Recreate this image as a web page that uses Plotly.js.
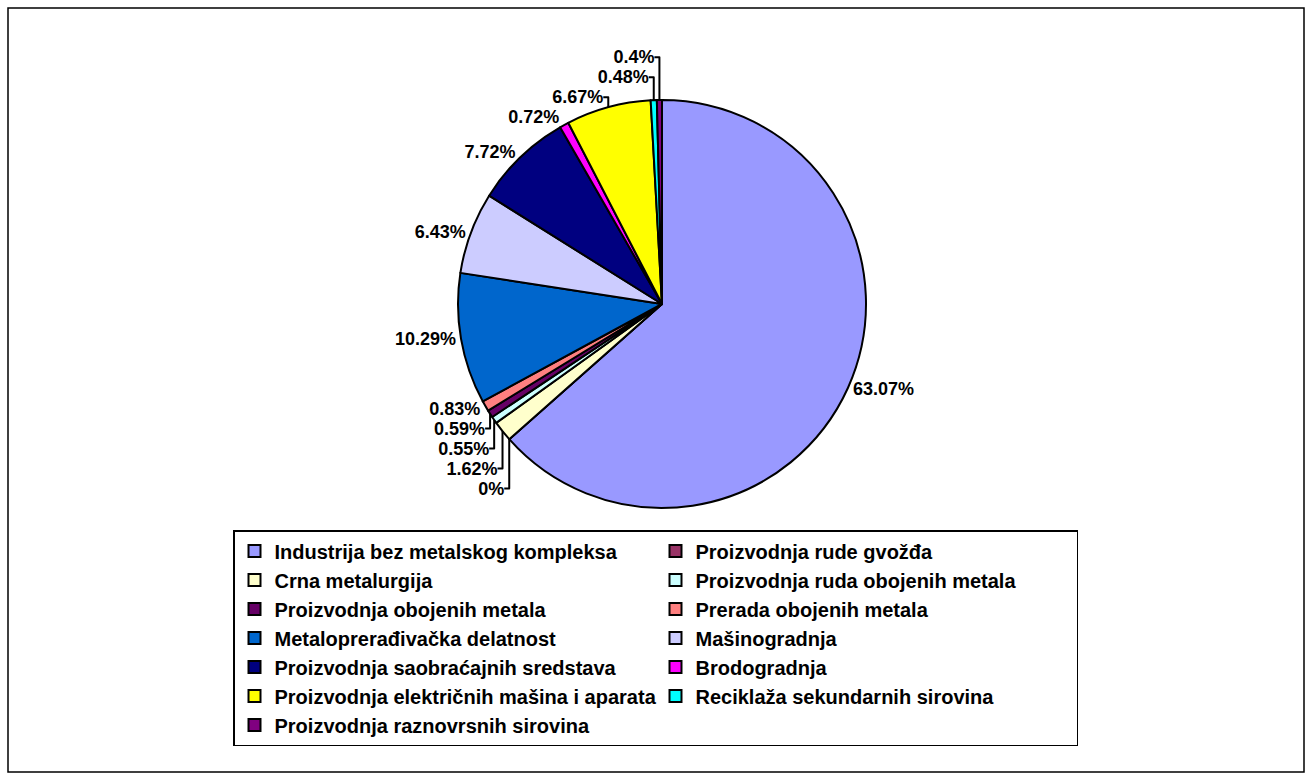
<!DOCTYPE html>
<html>
<head>
<meta charset="utf-8">
<script src="https://cdn.plot.ly/plotly-3.0.1.min.js"></script>
<style>html,body{margin:0;padding:0;background:#fff;}#chart{width:1312px;height:780px;}</style>
</head>
<body>
<div id="chart"></div>
<script>
const categories = [
  "Industrija bez metalskog kompleksa",
  "Proizvodnja rude gvožđa",
  "Crna metalurgija",
  "Proizvodnja ruda obojenih metala",
  "Proizvodnja obojenih metala",
  "Prerada obojenih metala",
  "Metaloprerađivačka delatnost",
  "Mašinogradnja",
  "Proizvodnja saobraćajnih sredstava",
  "Brodogradnja",
  "Proizvodnja električnih mašina i aparata",
  "Reciklaža sekundarnih sirovina",
  "Proizvodnja raznovrsnih sirovina"
];
const shares = [63.07, 0, 1.62, 0.55, 0.59, 0.83, 10.29, 6.43, 7.72, 0.72, 6.67, 0.48, 0.4];
const colors = ["#9999FF", "#993366", "#FFFFCC", "#CCFFFF", "#660066", "#FF8080", "#0066CC",
                "#CCCCFF", "#000080", "#FF00FF", "#FFFF00", "#00FFFF", "#800080"];

const W = 1312, H = 780, ML = 100, MR = 100;
const PW = W - ML - MR;
const px = v => (v - ML) / PW;   // pixel x -> paper x
const py = v => 1 - v / H;       // pixel y -> paper y

const trace = {
  type: "pie",
  labels: categories,
  values: shares,
  sort: false,
  direction: "clockwise",
  rotation: 0,
  marker: {colors: colors, line: {color: "#000", width: 2}},
  texttemplate: "%{value}%",
  textposition: "outside",
  textfont: {family: "Liberation Sans, Arial, sans-serif", size: 18, color: "#000", weight: "bold"},
  hoverinfo: "label+value",
  domain: {x: [px(412), px(912)], y: [py(508), py(100)]}
};

const layout = {
  width: W, height: H,
  margin: {l: ML, r: MR, t: 0, b: 0, autoexpand: false},
  paper_bgcolor: "#fff",
  showlegend: true,
  legend: {
    orientation: "h",
    x: px(233), xanchor: "left",
    y: py(530), yanchor: "top",
    entrywidth: 376, entrywidthmode: "pixels",
    bordercolor: "#000", borderwidth: 1.5,
    font: {family: "Liberation Sans, Arial, sans-serif", size: 20, color: "#000", weight: "bold"},
    itemwidth: 30,
    traceorder: "normal"
  },
  shapes: [{
    type: "rect", xref: "paper", yref: "paper",
    x0: px(8), x1: px(1304), y0: py(772), y1: py(8),
    line: {color: "#000", width: 1.5}
  }]
};

Plotly.newPlot("chart", [trace], layout, {displayModeBar: false, staticPlot: true});
</script>
</body>
</html>
